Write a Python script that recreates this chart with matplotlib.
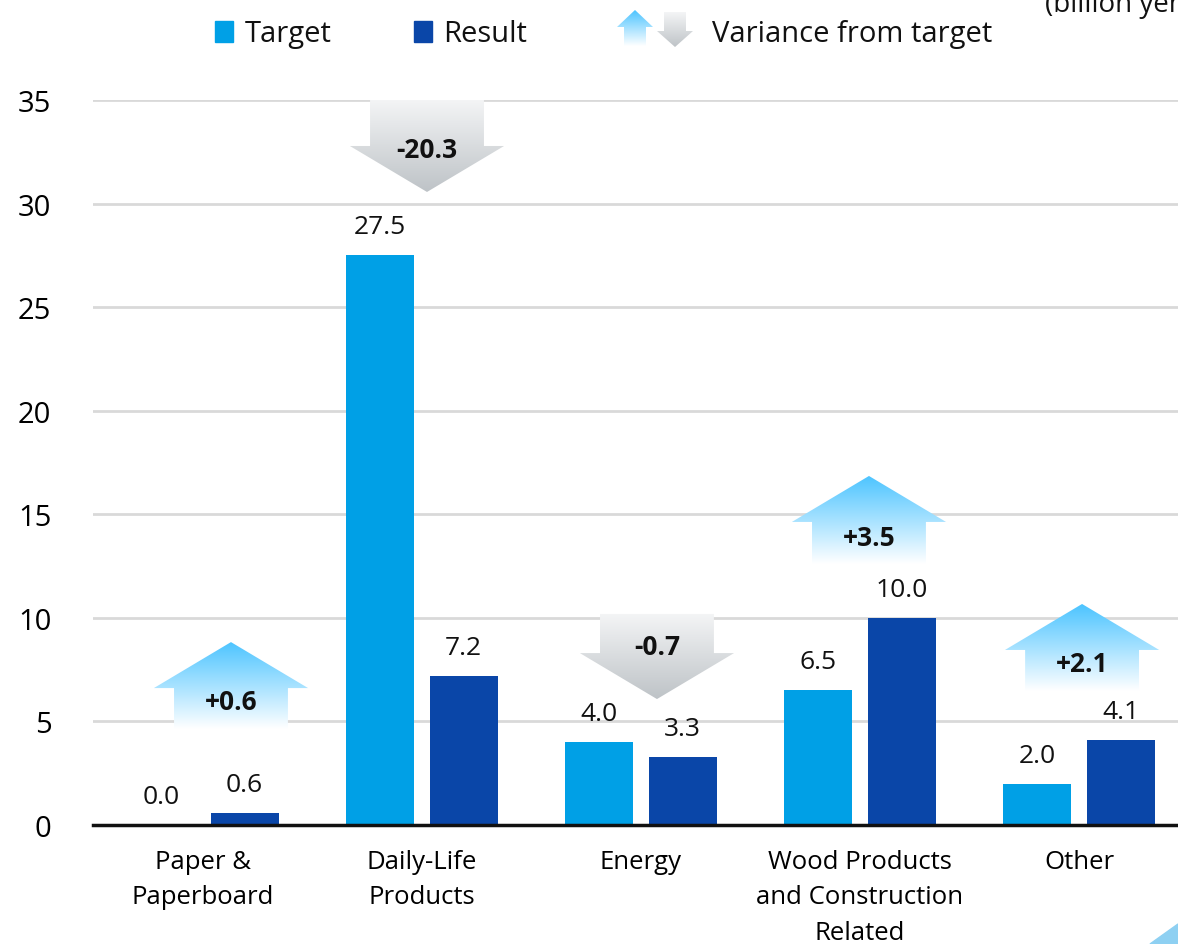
import numpy as np
import matplotlib
matplotlib.use("Agg")
import matplotlib.pyplot as plt
from matplotlib.patches import Polygon, Rectangle

plt.rcParams['font.family'] = ['Open Sans', 'DejaVu Sans']

categories = ["Paper &\nPaperboard", "Daily-Life\nProducts", "Energy",
              "Wood Products\nand Construction\nRelated", "Other"]
target = [0.0, 27.5, 4.0, 6.5, 2.0]
result = [0.6, 7.2, 3.3, 10.0, 4.1]
variance = ["+0.6", "-20.3", "-0.7", "+3.5", "+2.1"]
yticks = [0, 5, 10, 15, 20, 25, 30, 35]

# arrow layout in data units: (x centre, top y, bottom y)
arrow_pos = [(0.128, 8.83, 4.63), (1.023, 35.05, 30.56), (2.073, 10.19, 6.08),
             (3.041, 16.85, 12.6), (4.014, 10.67, 6.47)]
label_y = [5.94, 32.6, 8.6, 13.87, 7.78]

c_target = "#00A0E6"
c_result = "#0A46A8"

W, H = 1178, 945
fig = plt.figure(figsize=(W / 100, H / 100), dpi=100)
ax = fig.add_axes([93 / W, 1 - 826 / H, 1 - 93 / W, (826 - 101) / H])

x = np.arange(len(categories))
bw = 0.31
off = 0.19
b1 = ax.bar(x - off, target, bw, color=c_target, zorder=2)
b2 = ax.bar(x + off, result, bw, color=c_result, zorder=2)
for bars, vals in ((b1, target), (b2, result)):
    for b, v in zip(bars, vals):
        ax.annotate(f"{v:.1f}", (b.get_x() + b.get_width() / 2, v),
                    xytext=(0, 20.5), textcoords="offset points",
                    ha="center", va="center", fontsize=19, color="#111111")


def grad_arrow(axis, cx, top, bottom, up, hw, sw, hh, c_start, c_end, z=3):
    # c_start is the colour at the top, c_end at the bottom
    if up:
        pts = [(cx, top), (cx + hw, top - hh), (cx + sw, top - hh), (cx + sw, bottom),
               (cx - sw, bottom), (cx - sw, top - hh), (cx - hw, top - hh)]
    else:
        pts = [(cx, bottom), (cx + hw, bottom + hh), (cx + sw, bottom + hh), (cx + sw, top),
               (cx - sw, top), (cx - sw, bottom + hh), (cx - hw, bottom + hh)]
    poly = Polygon(pts, closed=True, facecolor="none", edgecolor="none")
    axis.add_patch(poly)
    c0 = np.array(matplotlib.colors.to_rgb(c_start))
    c1 = np.array(matplotlib.colors.to_rgb(c_end))
    t = np.linspace(0, 1, 200)[:, None]
    img = (c0 * (1 - t) + c1 * t)[:, None, :]
    im = axis.imshow(img, extent=[cx - hw, cx + hw, bottom, top], origin="upper",
                     aspect="auto", zorder=z, interpolation="bilinear")
    im.set_clip_path(poly)
    return im


hw, sw, hh = 0.352, 0.26, 2.22
for (cx, top, bot), lab, ly in zip(arrow_pos, variance, label_y):
    if lab.startswith("+"):
        grad_arrow(ax, cx, top, bot, True, hw, sw, hh, "#4CC4FF", "#FFFFFF")
    else:
        grad_arrow(ax, cx, top, bot, False, hw, sw, hh, "#F4F5F6", "#BEC3C7")
    ax.text(cx, ly, lab, ha="center", va="center", fontsize=19,
            fontweight="bold", color="#111111", zorder=4)

ax.set_xlim(-0.502, 4.452)
ax.set_ylim(0, 35)
ax.set_yticks(yticks)
ax.set_xticks(x)
ax.set_xticklabels(categories, fontsize=18.5, linespacing=1.55)
ax.tick_params(axis="y", length=0, pad=30, labelsize=21)
ax.tick_params(axis="x", length=0, pad=17)
ax.yaxis.grid(True, color="#D9D9D9", linewidth=2, zorder=0)
ax.set_axisbelow(True)
for s in ["top", "right", "left"]:
    ax.spines[s].set_visible(False)
ax.spines["bottom"].set_linewidth(2.5)
ax.spines["bottom"].set_color("#111111")
ax.spines["bottom"].set_zorder(5)

# overlay in pixel coordinates (y measured upward) for legend and decorations
ov = fig.add_axes([0, 0, 1, 1], zorder=10)
ov.axis("off")
ov.patch.set_alpha(0)

ov.add_patch(Rectangle((215, H - 43), 18, 21, color=c_target))
ov.text(245, H - 35, "Target", fontsize=21, va="center", ha="left", color="#111111")
ov.add_patch(Rectangle((414, H - 43), 18, 21, color=c_result))
ov.text(443, H - 35, "Result", fontsize=21, va="center", ha="left", color="#111111")
grad_arrow(ov, 635, H - 11, H - 47, True, 18, 11, 17, "#4CC4FF", "#FFFFFF")
grad_arrow(ov, 675, H - 13, H - 48, False, 18, 11, 16, "#F4F5F6", "#BEC3C7")
ov.text(712, H - 35, "Variance from target", fontsize=21, va="center", ha="left",
        color="#111111")
ov.text(1045, H - 5, "(billion yen)", fontsize=20, va="center", ha="left", color="#111111")
ov.add_patch(Polygon([(1150, 0), (1178, 20), (1178, 0)], closed=True,
                     color="#8ED0F2"))
ov.set_xlim(0, W)
ov.set_ylim(0, H)

fig.savefig("out.png", dpi=100)
